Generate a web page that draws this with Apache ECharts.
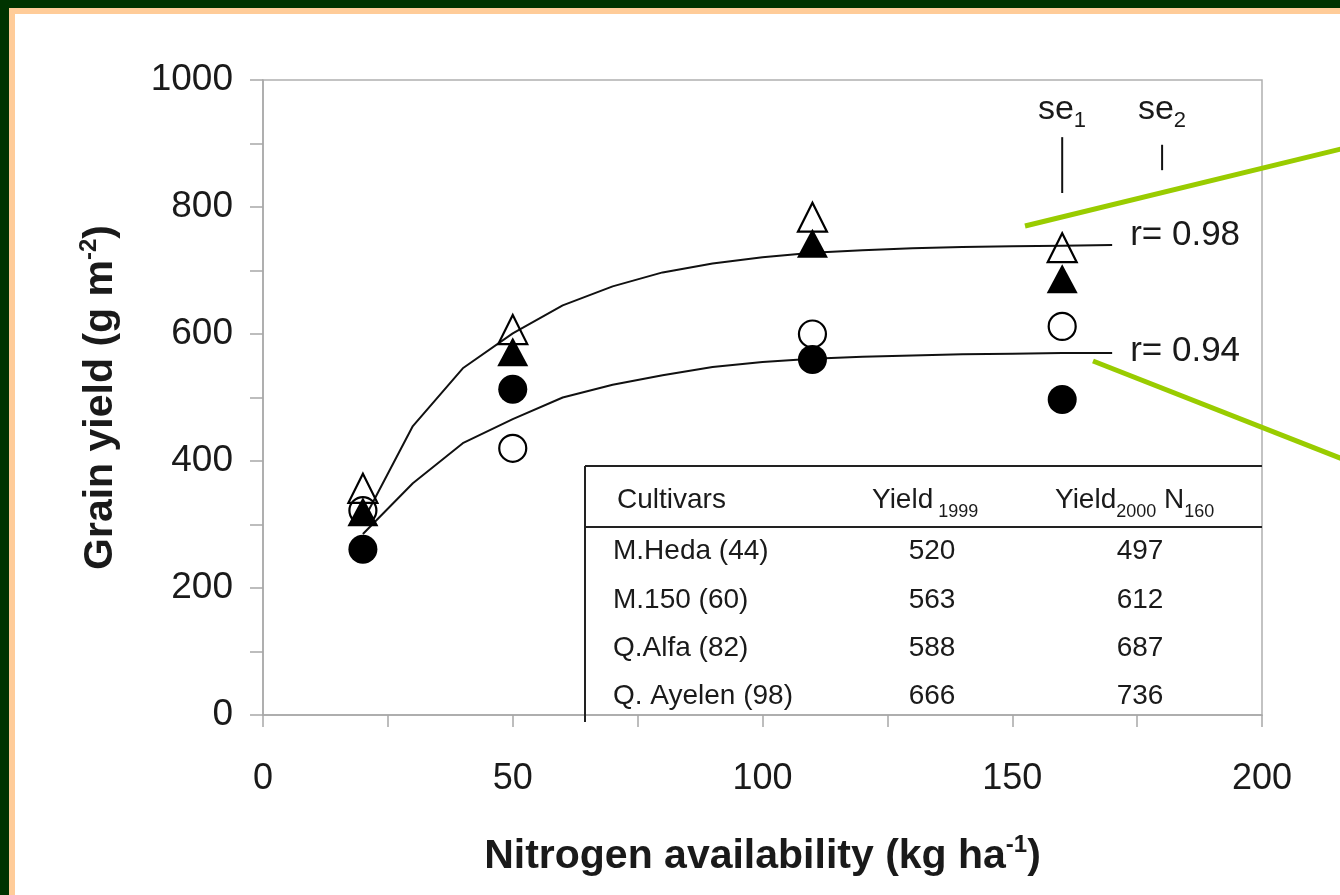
<!DOCTYPE html>
<html>
<head>
<meta charset="utf-8">
<script src="https://cdn.jsdelivr.net/npm/echarts@6/dist/echarts.min.js"></script>
<style>
  html, body { margin: 0; padding: 0; background: #ffffff; width: 1340px; height: 895px; overflow: hidden; }
  #fg { position: absolute; left: 0; top: 0; width: 1340px; height: 8px; background: #003300; }
  #fl { position: absolute; left: 0; top: 0; width: 9px; height: 895px; background: #003300; }
  #og { position: absolute; left: 9px; top: 8px; width: 1331px; height: 6px; background: #ffcc99; }
  #ol { position: absolute; left: 9px; top: 8px; width: 6px; height: 887px; background: #ffcc99; }
  #chart { position: absolute; left: 0; top: 0; width: 1340px; height: 895px; }
</style>
</head>
<body>
<div id="fg"></div><div id="fl"></div><div id="og"></div><div id="ol"></div>
<div id="chart"></div>
<script>
// ---- data ----
var nitrogen = [20, 50, 110, 160];
var qAyelen = [357, 607, 784, 736];   // open triangles
var qAlfa   = [320, 572, 743, 687];   // filled triangles
var m150    = [322, 420, 600, 612];   // open circles
var mHeda   = [261, 513, 560, 497];   // filled circles

var curveX     = [20, 30, 40, 50, 60, 70, 80, 90, 100, 110, 120, 130, 140, 150, 160, 170];
var upperCurve = [305, 455, 546, 601, 645, 675, 697, 711, 721, 728, 732, 735, 737, 738, 739, 740];
var lowerCurve = [285, 365, 428, 466, 500, 520, 535, 548, 556, 561, 564, 566, 568, 569, 570, 570];
var upperR = 'r= 0.98';
var lowerR = 'r= 0.94';

var se1 = [[160, 822], [160, 910]];
var se2 = [[180, 858], [180, 898]];

var tableCultivars = ['M.Heda (44)', 'M.150 (60)', 'Q.Alfa (82)', 'Q. Ayelen (98)'];
var tableYield1999 = [520, 563, 588, 666];
var tableYield2000N160 = [497, 612, 687, 736];

var yTicks = [0, 200, 400, 600, 800, 1000];
var xTicks = [0, 50, 100, 150, 200];

function pairs(xs, ys) { return xs.map(function (x, i) { return [x, ys[i]]; }); }

var FONT = '"Liberation Sans", Arial, Helvetica, sans-serif';
var TXT = '#1a1a1a';

var chart = echarts.init(document.getElementById('chart'), null, { renderer: 'canvas' });

// table graphics
var tg = [];
var rowY = [551, 600, 648, 696];
var TF = 28;
tg.push({ type: 'line', shape: { x1: 585, y1: 466, x2: 1262, y2: 466 }, style: { stroke: '#222', lineWidth: 2 }, z: 50 });
tg.push({ type: 'line', shape: { x1: 585, y1: 527, x2: 1262, y2: 527 }, style: { stroke: '#222', lineWidth: 2 }, z: 50 });
tg.push({ type: 'line', shape: { x1: 585, y1: 466, x2: 585, y2: 722 }, style: { stroke: '#222', lineWidth: 2 }, z: 50 });
tg.push({ type: 'text', x: 617, y: 500, z: 50, style: { text: 'Cultivars', font: TF + 'px ' + FONT, fill: TXT, textVerticalAlign: 'middle' } });
tg.push({ type: 'text', x: 872, y: 500, z: 50, style: {
  text: '{a|Yield}{b| 1999}', fill: TXT, textVerticalAlign: 'middle',
  rich: { a: { fontSize: TF, fontFamily: FONT, lineHeight: 42, verticalAlign: 'middle' },
          b: { fontSize: 18, fontFamily: FONT, lineHeight: 42, verticalAlign: 'bottom' } } } });
tg.push({ type: 'text', x: 1055, y: 500, z: 50, style: {
  text: '{a|Yield}{b|2000}{a| N}{b|160}', fill: TXT, textVerticalAlign: 'middle',
  rich: { a: { fontSize: TF, fontFamily: FONT, lineHeight: 42, verticalAlign: 'middle' },
          b: { fontSize: 18, fontFamily: FONT, lineHeight: 42, verticalAlign: 'bottom' } } } });
tableCultivars.forEach(function (c, i) {
  tg.push({ type: 'text', x: 613, y: rowY[i], z: 50, style: { text: c, font: TF + 'px ' + FONT, fill: TXT, textVerticalAlign: 'middle' } });
  tg.push({ type: 'text', x: 932, y: rowY[i], z: 50, style: { text: String(tableYield1999[i]), font: TF + 'px ' + FONT, fill: TXT, textAlign: 'center', textVerticalAlign: 'middle' } });
  tg.push({ type: 'text', x: 1140, y: rowY[i], z: 50, style: { text: String(tableYield2000N160[i]), font: TF + 'px ' + FONT, fill: TXT, textAlign: 'center', textVerticalAlign: 'middle' } });
});
// se labels
var seRich = { a: { fontSize: 34, fontFamily: FONT, lineHeight: 44, verticalAlign: 'middle' },
               b: { fontSize: 22, fontFamily: FONT, lineHeight: 44, verticalAlign: 'bottom' } };
tg.push({ type: 'text', x: 1062, y: 110, z: 50, style: { text: '{a|se}{b|1}', fill: TXT, textAlign: 'center', textVerticalAlign: 'middle', rich: seRich } });
tg.push({ type: 'text', x: 1162, y: 110, z: 50, style: { text: '{a|se}{b|2}', fill: TXT, textAlign: 'center', textVerticalAlign: 'middle', rich: seRich } });
// green annotation pointers
tg.push({ type: 'line', shape: { x1: 1025, y1: 226, x2: 1345, y2: 148 }, style: { stroke: '#99cc00', lineWidth: 5 }, z: 60 });
tg.push({ type: 'line', shape: { x1: 1093, y1: 361, x2: 1345, y2: 460 }, style: { stroke: '#99cc00', lineWidth: 5 }, z: 60 });

var option = {
  animation: false,
  backgroundColor: 'transparent',
  grid: { left: 263, right: 78, top: 80, bottom: 180, show: true, borderColor: '#b0b0b0', borderWidth: 1.5, backgroundColor: 'transparent' },
  xAxis: {
    type: 'value', min: 0, max: 200, interval: 25,
    name: '{a|Nitrogen availability (kg ha}{s|-1}{a|)}',
    nameLocation: 'middle', nameGap: 118,
    nameTextStyle: { rich: {
      a: { fontSize: 41, fontWeight: 'bold', fontFamily: FONT, color: TXT, lineHeight: 48 },
      s: { fontSize: 24, fontWeight: 'bold', fontFamily: FONT, color: TXT, lineHeight: 48, verticalAlign: 'top' } } },
    axisLine: { show: true, lineStyle: { color: '#a8a8a8', width: 1.5 } },
    axisTick: { show: true, inside: false, length: 12, lineStyle: { color: '#a8a8a8', width: 1.5 } },
    axisLabel: { margin: 46, fontSize: 36, fontFamily: FONT, color: TXT,
      formatter: function (v) { return xTicks.indexOf(v) >= 0 ? String(v) : ''; } },
    splitLine: { show: false }
  },
  yAxis: {
    type: 'value', min: 0, max: 1000, interval: 100,
    name: '{a|Grain yield (g m}{s|-2}{a|)}',
    nameLocation: 'middle', nameGap: 138,
    nameTextStyle: { rich: {
      a: { fontSize: 41, fontWeight: 'bold', fontFamily: FONT, color: TXT, lineHeight: 48 },
      s: { fontSize: 24, fontWeight: 'bold', fontFamily: FONT, color: TXT, lineHeight: 48, verticalAlign: 'top' } } },
    axisLine: { show: true, lineStyle: { color: '#a8a8a8', width: 1.5 } },
    axisTick: { show: true, inside: false, length: 13, lineStyle: { color: '#a8a8a8', width: 1.5 } },
    axisLabel: { margin: 30, fontSize: 37, fontFamily: FONT, color: TXT,
      formatter: function (v) { return yTicks.indexOf(v) >= 0 ? String(v) : ''; } },
    splitLine: { show: false }
  },
  series: [
    { type: 'line', data: pairs(curveX, upperCurve), symbol: 'none', z: 3,
      lineStyle: { color: '#111', width: 2 },
      endLabel: { show: true, formatter: upperR, fontSize: 35, fontFamily: FONT, color: TXT, distance: 18, offset: [0, -10] } },
    { type: 'line', data: pairs(curveX, lowerCurve), symbol: 'none', z: 3,
      lineStyle: { color: '#111', width: 2 },
      endLabel: { show: true, formatter: lowerR, fontSize: 35, fontFamily: FONT, color: TXT, distance: 18, offset: [0, -2] } },
    { type: 'line', data: se1, symbol: 'none', lineStyle: { color: '#111', width: 2 } },
    { type: 'line', data: se2, symbol: 'none', lineStyle: { color: '#111', width: 2 } },
    { type: 'scatter', name: 'M.Heda', data: pairs(nitrogen, mHeda), symbol: 'circle', symbolSize: 29, z: 4,
      itemStyle: { color: '#000', opacity: 1 } },
    { type: 'scatter', name: 'M.150', data: pairs(nitrogen, m150), symbol: 'circle', symbolSize: 27, z: 4,
      itemStyle: { color: 'rgba(255,255,255,0)', borderColor: '#000', borderWidth: 2.2, opacity: 1 } },
    { type: 'scatter', name: 'Q.Alfa', data: pairs(nitrogen, qAlfa), symbol: 'triangle', symbolSize: [31, 29], z: 4,
      itemStyle: { color: '#000', opacity: 1 } },
    { type: 'scatter', name: 'Q.Ayelen', data: pairs(nitrogen, qAyelen), symbol: 'triangle', symbolSize: [29, 29], z: 5,
      itemStyle: { color: 'rgba(255,255,255,0)', borderColor: '#000', borderWidth: 2.2, opacity: 1 } }
  ],
  graphic: tg
};
chart.setOption(option);
</script>
</body>
</html>
